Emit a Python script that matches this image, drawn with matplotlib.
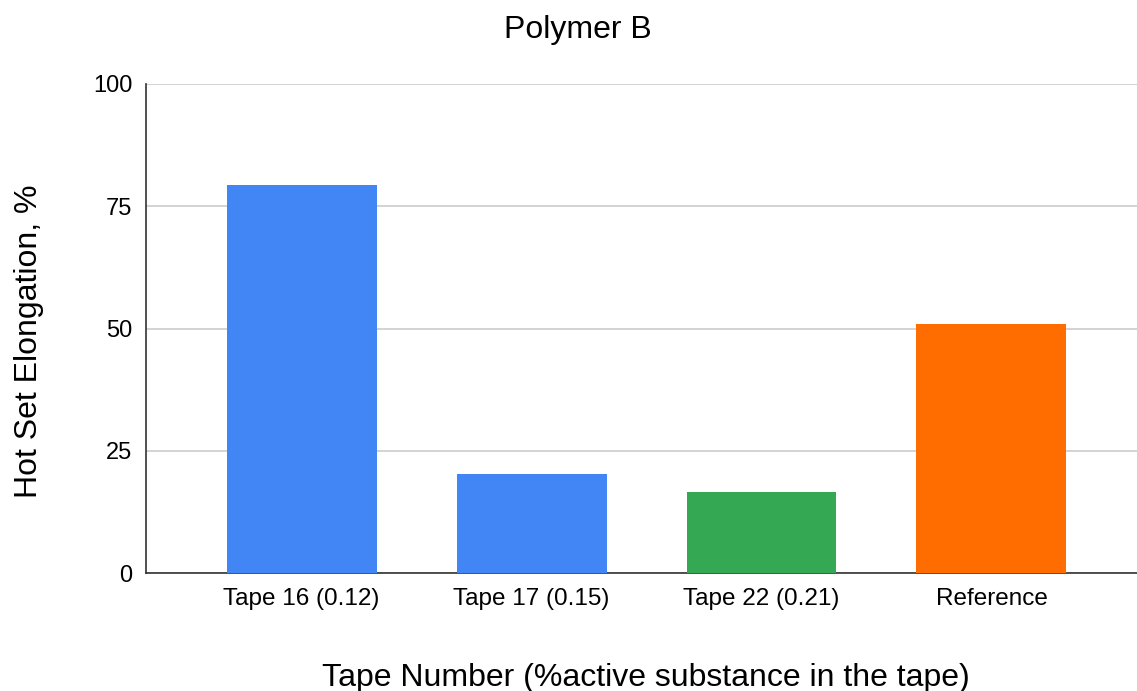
import matplotlib
matplotlib.use("Agg")
import matplotlib.pyplot as plt

categories = ["Tape 16 (0.12)", "Tape 17 (0.15)", "Tape 22 (0.21)", "Reference"]
values = [79.3, 20.2, 16.5, 50.9]
colors = ["#4285f4", "#4285f4", "#34a853", "#ff6d01"]
yticks = [0, 25, 50, 75, 100]

plt.rcParams['font.family'] = ['Liberation Sans', 'DejaVu Sans']

fig = plt.figure(figsize=(11.37, 6.91), dpi=100)
ax = fig.add_axes([145.7/1137, 1-573/691, 1-145.7/1137, (573-84)/691])

x = range(len(categories))
ax.bar(x, values, width=0.652, color=colors, zorder=3)
ax.set_xlim(-0.678, 3.633)
ax.set_ylim(0, 100)
ax.set_yticks(yticks)
ax.set_xticks(list(x))
ax.set_xticklabels(categories, fontsize=17.5)
ax.tick_params(axis='y', labelsize=17, length=0, pad=9.5)
ax.tick_params(axis='x', length=0, pad=11)
ax.grid(axis='y', color='#cccccc', linewidth=1.2, zorder=0)
for s in ['top', 'right']:
    ax.spines[s].set_visible(False)
ax.spines['left'].set_color('#333333')
ax.spines['bottom'].set_color('#333333')
ax.spines['left'].set_linewidth(1.2)
ax.spines['bottom'].set_linewidth(1.2)

ax.set_xlabel("Tape Number (%active substance in the tape)", fontsize=23)
ax.xaxis.set_label_coords(0.5047, -0.184)
ax.set_ylabel("Hot Set Elongation, %", fontsize=23)
ax.yaxis.set_label_coords(-0.1026, 0.474)
fig.text(578/1137, 1-30/691, "Polymer B", fontsize=23, ha='center', va='center')

fig.savefig("out.png", dpi=100)
